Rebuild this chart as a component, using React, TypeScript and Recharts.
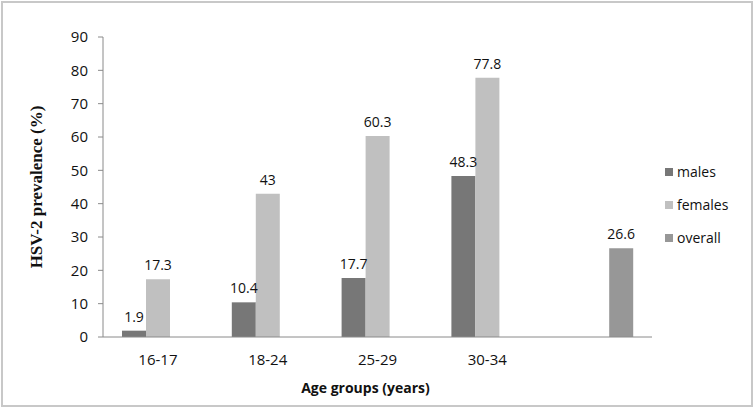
import { ComposedChart, Bar, XAxis, YAxis, LabelList, Label } from 'recharts';

const categories = ['16-17', '18-24', '25-29', '30-34', ''];
const males = [1.9, 10.4, 17.7, 48.3, null];
const females = [17.3, 43, 60.3, 77.8, null];
const overall = [null, null, null, null, 26.6];
const yTicks = [0, 10, 20, 30, 40, 50, 60, 70, 80, 90];
const groupEdges = [0, 1, 2, 3, 4, 5];

const seriesInfo = [
  { key: 'males', name: 'males', color: '#777777' },
  { key: 'females', name: 'females', color: '#c0c0c0' },
  { key: 'overall', name: 'overall', color: '#979797' },
];

const data = categories.map((c, i) => ({
  group: c,
  males: males[i],
  females: females[i],
  overall: overall[i],
}));

const FONT = '"Open Sans", "Liberation Sans", sans-serif';
const AXIS = '#8a8a8a';

const renderValue = (props: any) => {
  const { x, y, width, value } = props;
  if (value == null) return null;
  return (
    <text
      x={x + width / 2}
      y={y - 9}
      textAnchor="middle"
      fontSize={14}
      fontFamily={FONT}
      fill="#111"
    >
      {value}
    </text>
  );
};

export default function App() {
  return (
    <div style={{ position: 'absolute', left: 0, top: 0, width: 755, height: 409, background: '#fff' }}>
      <div
        style={{
          position: 'absolute',
          left: 1,
          top: 1,
          width: 752,
          height: 406,
          boxSizing: 'border-box',
          border: '2px solid #c8c8c8',
        }}
      />
      <ComposedChart
        width={755}
        height={409}
        data={data}
        margin={{ top: 37, right: 103, bottom: 0, left: 43 }}
        barGap={0}
        style={{ position: 'absolute', left: 0, top: 0 }}
      >
        {/* group boundary ticks + axis line */}
        <XAxis
          xAxisId="a_edges"
          type="number"
          domain={[0, 5]}
          ticks={groupEdges}
          height={1}
          tick={false}
          tickSize={5}
          tickLine={{ stroke: AXIS }}
          axisLine={{ stroke: AXIS }}
        />
        <XAxis
          xAxisId="b_cat"
          dataKey="group"
          height={71}
          tickSize={0}
          tickMargin={16}
          tickLine={false}
          axisLine={false}
          tick={{ fontSize: 15, fontFamily: FONT, fill: '#111' }}
          interval={0}
        >
          <Label
            value="Age groups (years)"
            position="insideBottom"
            offset={16}
            dx={-12}
            style={{ fontSize: 14, fontWeight: 'bold', fontFamily: FONT, fill: '#111' }}
          />
        </XAxis>
        <YAxis
          width={60}
          domain={[0, 90]}
          ticks={yTicks}
          tickSize={5}
          tickMargin={10}
          tickLine={{ stroke: AXIS }}
          axisLine={{ stroke: AXIS }}
          tick={{ fontSize: 15, fontFamily: FONT, fill: '#111' }}
        >
          <Label
            value="HSV-2 prevalence (%)"
            position="center"
            angle={-90}
            dx={-37}
            style={{ fontSize: 17, fontWeight: 'bold', fontFamily: '"Liberation Serif", serif', fill: '#111', textAnchor: 'middle' }}
          />
        </YAxis>
        {seriesInfo.map((s) => (
          <Bar
            key={s.key}
            xAxisId="b_cat"
            dataKey={s.key}
            name={s.name}
            fill={s.color}
            barSize={24}
            isAnimationActive={false}
          >
            <LabelList dataKey={s.key} content={renderValue} />
          </Bar>
        ))}
      </ComposedChart>
      <div style={{ position: 'absolute', left: 665, top: 155, fontFamily: FONT, fontSize: 14, color: '#111' }}>
        {seriesInfo.map((s) => (
          <div key={s.key} style={{ display: 'flex', alignItems: 'center', height: 33 }}>
            <span style={{ width: 8, height: 8, background: s.color, marginRight: 4, display: 'inline-block' }} />
            <span>{s.name}</span>
          </div>
        ))}
      </div>
    </div>
  );
}
